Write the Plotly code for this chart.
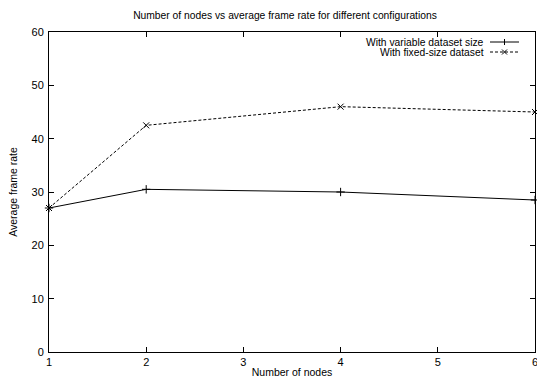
import plotly.graph_objects as go

nodes = [1, 2, 4, 6]
variable_rate = [27, 30.5, 30, 28.5]
fixed_rate = [27, 42.5, 46, 45]
series_names = ["With variable dataset size", "With fixed-size dataset"]
x_ticks = [1, 2, 3, 4, 5, 6]
y_ticks = [0, 10, 20, 30, 40, 50, 60]

FONT = "Liberation Sans, Arial, sans-serif"

fig = go.Figure()
fig.add_trace(go.Scatter(
    x=nodes, y=variable_rate, mode="lines+markers", name=series_names[0],
    line=dict(color="black", width=1),
    marker=dict(symbol="cross-thin", size=6, line=dict(color="black", width=1)),
    showlegend=False, cliponaxis=False))
fig.add_trace(go.Scatter(
    x=nodes, y=fixed_rate, mode="lines+markers", name=series_names[1],
    line=dict(color="black", width=1, dash="3px,2px"),
    marker=dict(symbol="x-thin", size=6, line=dict(color="black", width=1)),
    showlegend=False, cliponaxis=False))

W, H = 537, 383
L, R, T, B = 49, 2, 32, 31
pw, ph = W - L - R, H - T - B

def px(xp):
    return (xp - L) / pw

def py(yp):
    return 1 - (yp - T) / ph

# gnuplot-style legend (text right aligned, sample to the right)
legend_rows = [(42, "solid", "cross"), (52, "dash", "x")]
for (yp, style, mk), name in zip(legend_rows, series_names):
    fig.add_annotation(xref="paper", yref="paper", x=px(485), y=py(yp),
                       text=name, showarrow=False, xanchor="right", yanchor="middle",
                       borderpad=0,
                       font=dict(family=FONT, size=10.3, color="black"))
    fig.add_shape(type="line", xref="paper", yref="paper",
                  x0=px(490), x1=px(519), y0=py(yp), y1=py(yp),
                  line=dict(color="black", width=1, dash="solid" if style == "solid" else "3px,2px"))
    cx = 504.5
    if mk == "cross":
        fig.add_shape(type="line", xref="paper", yref="paper",
                      x0=px(cx), x1=px(cx), y0=py(yp - 3), y1=py(yp + 3),
                      line=dict(color="black", width=1))
    else:
        fig.add_shape(type="line", xref="paper", yref="paper",
                      x0=px(cx - 2.5), x1=px(cx + 2.5), y0=py(yp - 2.5), y1=py(yp + 2.5),
                      line=dict(color="black", width=1))
        fig.add_shape(type="line", xref="paper", yref="paper",
                      x0=px(cx - 2.5), x1=px(cx + 2.5), y0=py(yp + 2.5), y1=py(yp - 2.5),
                      line=dict(color="black", width=1))

axis_common = dict(showgrid=False, zeroline=False, showline=True, linecolor="black",
                   linewidth=1, mirror="allticks", ticks="inside", ticklen=5,
                   tickcolor="black", tickwidth=1, automargin=False,
                   ticklabeloverflow="allow",
                   tickfont=dict(family=FONT, size=11, color="black"))

fig.update_layout(
    width=W, height=H,
    margin=dict(l=L, r=R, t=T, b=B),
    paper_bgcolor="white", plot_bgcolor="white",
    title=dict(text="Number of nodes vs average frame rate for different configurations",
               x=285 / W, xanchor="center", y=1 - 15 / H, yanchor="middle",
               font=dict(family=FONT, size=10.3, color="black")),
    xaxis=dict(range=[1, 6], tickvals=x_ticks,
               title=dict(text="Number of nodes", standoff=1,
                          font=dict(family=FONT, size=10.5, color="black")),
               **axis_common),
    yaxis=dict(range=[0, 60], tickvals=y_ticks, ticklabelstandoff=2,
               title=dict(text="Average frame rate", standoff=11,
                          font=dict(family=FONT, size=10.5, color="black")),
               **axis_common),
)

fig.write_html("out.html", config={"displayModeBar": False},
               post_script="document.body.style.margin='0';document.body.style.overflow='hidden';")
